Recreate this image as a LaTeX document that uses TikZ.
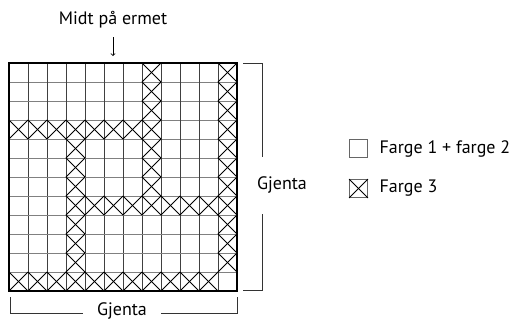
\documentclass[tikz,border=0pt]{standalone}
\usepackage{fontspec}
\setmainfont{PT Sans}
\begin{document}
\begin{tikzpicture}[x=1pt, y=-1pt, font=\fontsize{18}{21}\selectfont,
		vline/.style={draw=black!75, line width=0.8pt},
		hline/.style={draw=black!50, line width=0.8pt},
		cross/.style={line width=1pt},
		bracket/.style={draw=black!80, line width=0.8pt},
		legbox/.style={draw=black!60, line width=0.8pt, minimum size=18pt, inner sep=0pt}]
		\useasboundingbox (0,0) rectangle (511,322);

		% rutenett 12 x 12
		\foreach \i in {1,...,11} {
			\draw[hline] (9,63+\i*19) -- (237,63+\i*19);
			\draw[vline] (9+\i*19,63) -- (9+\i*19,291);
		}

		% kryss
		\foreach \c/\r in {12/1,12/2,12/3,12/4,12/5,12/6,12/7,12/8,12/9,12/10,12/11,
				8/1,8/2,8/3,8/4,8/5,8/6,8/7,8/8,
				4/4,4/5,4/6,4/7,4/8,4/9,4/10,4/11,
				1/4,2/4,3/4,5/4,6/4,7/4,
				5/8,6/8,7/8,9/8,10/8,11/8,
				1/12,2/12,3/12,4/12,5/12,6/12,7/12,8/12,9/12,10/12,11/12} {
			\draw[cross] (9+\c*19-19,63+\r*19-19) -- ++(19,19);
			\draw[cross] (9+\c*19,63+\r*19-19) -- ++(-19,19);
		}
		\draw[line width=1.8pt] (9,63) rectangle (237,291);

		\node (mid) at (113,20) {Midt på ermet};
		\coordinate (midend) at (113,56);
		\draw[->, line width=0.8pt] (113,37) -- (midend);

		% gjenta til høyre
		\node (gr) at (282,185) {Gjenta};
		\draw[bracket] (243,63) -- (262,63) -- (262,157);
		\draw[bracket] (262,214) -- (262,290) -- (243,290);

		% gjenta under
		\node (gb) at (122,311) {Gjenta};
		\draw[bracket] (10,297) -- (10,313) -- (83,313);
		\draw[bracket] (161,313) -- (237,313) -- (237,297);

		% forklaring
		\node[legbox] (l1) at (358.5,148.5) {};
		\node[anchor=west] (t1) at (376,148.5) {Farge 1 + farge 2};
		\node[legbox] (l2) at (358.5,188.5) {};
		\draw[cross] (l2.north west) -- (l2.south east);
		\draw[cross] (l2.north east) -- (l2.south west);
		\node[anchor=west] (t2) at (376,188.5) {Farge 3};
	\end{tikzpicture}
\end{document}
